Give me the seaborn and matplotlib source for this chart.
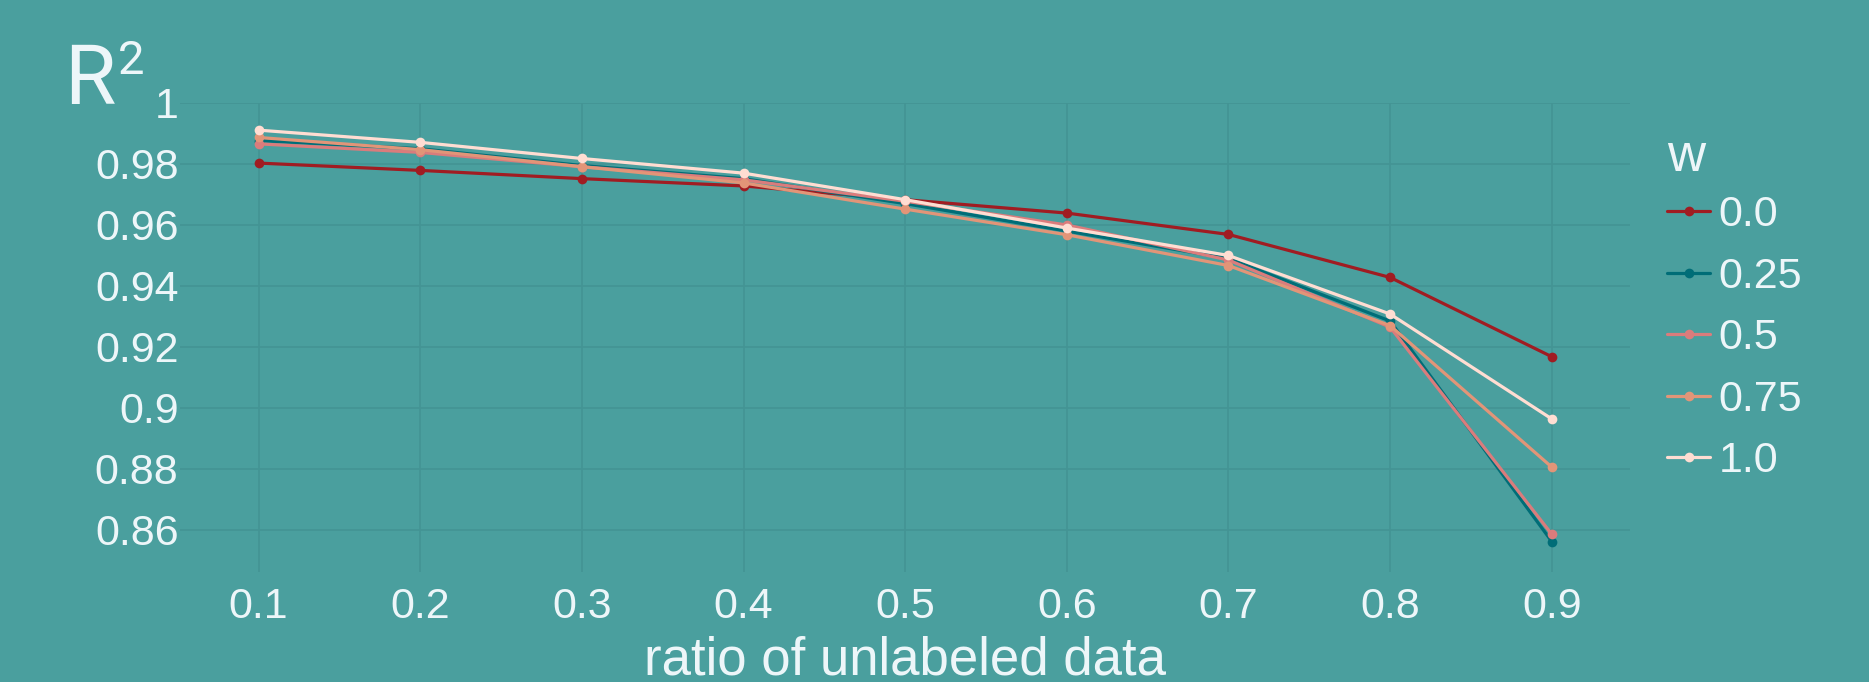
import pandas as pd
import matplotlib
matplotlib.use("Agg")
import matplotlib.pyplot as plt
import seaborn as sns

# ratio of unlabeled data on the x axis
ratio = [0.1, 0.2, 0.3, 0.4, 0.5, 0.6, 0.7, 0.8, 0.9]

# R^2 for each weight w
r2_w00 = [0.9803, 0.9779, 0.9752, 0.9728, 0.9683, 0.9639, 0.9569, 0.9428, 0.9168]
r2_w025 = [0.9877, 0.9850, 0.9795, 0.9752, 0.9670, 0.9580, 0.9490, 0.9285, 0.8562]
r2_w05 = [0.9866, 0.9838, 0.9791, 0.9748, 0.9678, 0.9600, 0.9485, 0.9265, 0.8586]
r2_w075 = [0.9887, 0.9847, 0.9791, 0.9738, 0.9652, 0.9568, 0.9467, 0.9270, 0.8806]
r2_w10 = [0.9911, 0.9871, 0.9818, 0.9770, 0.9683, 0.9590, 0.9500, 0.9308, 0.8964]

w_labels = ["0.0", "0.25", "0.5", "0.75", "1.0"]
y_ticks = [0.86, 0.88, 0.90, 0.92, 0.94, 0.96, 0.98, 1.0]
y_tick_labels = ["0.86", "0.88", "0.9", "0.92", "0.94", "0.96", "0.98", "1"]
x_ticks = ratio
x_tick_labels = ["0.1", "0.2", "0.3", "0.4", "0.5", "0.6", "0.7", "0.8", "0.9"]

BG = "#4a9f9e"
GRID = "#439494"
TXT = "#edf6f9"
palette = {"0.0": "#a01c22", "0.25": "#006d77", "0.5": "#da7c7c",
           "0.75": "#e29578", "1.0": "#ffddd2"}

rows = []
for lab, vals in zip(w_labels, [r2_w00, r2_w025, r2_w05, r2_w075, r2_w10]):
    for x, y in zip(ratio, vals):
        rows.append({"ratio": x, "R2": y, "w": lab})
df = pd.DataFrame(rows)

sns.set_style("white")
plt.rcParams["font.family"] = ["Liberation Sans", "DejaVu Sans"]

W, H = 1869, 682
fig = plt.figure(figsize=(W / 100, H / 100), dpi=100, facecolor=BG)
ax = fig.add_axes([180 / W, (H - 572) / H, 1450 / W, 469 / H])
ax.set_facecolor(BG)

sns.lineplot(data=df, x="ratio", y="R2", hue="w", hue_order=w_labels,
             palette=palette, marker="o", markersize=7, markeredgewidth=0,
             linewidth=2.3, ax=ax, legend=True)

ax.set_xlim(0.0514, 0.9484)
ax.set_ylim(0.8462, 1.0)
ax.set_xticks(x_ticks)
ax.set_xticklabels(x_tick_labels)
ax.set_yticks(y_ticks)
ax.set_yticklabels(y_tick_labels)
ax.grid(True, color=GRID, linewidth=1.2)
ax.set_axisbelow(True)
for s in ax.spines.values():
    s.set_visible(False)
ax.tick_params(axis="both", length=0, colors=TXT, labelsize=31)
ax.tick_params(axis="y", pad=1)
ax.tick_params(axis="x", pad=11)
ax.set_ylabel("")
ax.set_xlabel("ratio of unlabeled data", fontsize=38, color=TXT, labelpad=6)

# y axis title, drawn as R with a raised 2
narrow = ["Liberation Sans Narrow", "Roboto", "DejaVu Sans"]
fig.text(64 / W, 1 - 104 / H, "R", fontsize=60, color=TXT, family=narrow,
         ha="left", va="baseline")
fig.text(118 / W, 1 - 74 / H, "2", fontsize=34, color=TXT, family=narrow,
         ha="left", va="baseline")

handles, labels = ax.get_legend_handles_labels()
ax.get_legend().remove()
leg = fig.legend(handles, labels, title="w", loc="upper left",
                 bbox_to_anchor=(1667 / W, 1 - 132 / H), frameon=False,
                 fontsize=31, title_fontsize=38, handlelength=1.0,
                 handletextpad=0.2, labelspacing=0.5, alignment="left",
                 borderaxespad=0, borderpad=0)
leg._legend_box.sep = 9.5
leg.get_title().set_color(TXT)
for t in leg.get_texts():
    t.set_color(TXT)

fig.savefig("out.png", dpi=100, facecolor=BG)
